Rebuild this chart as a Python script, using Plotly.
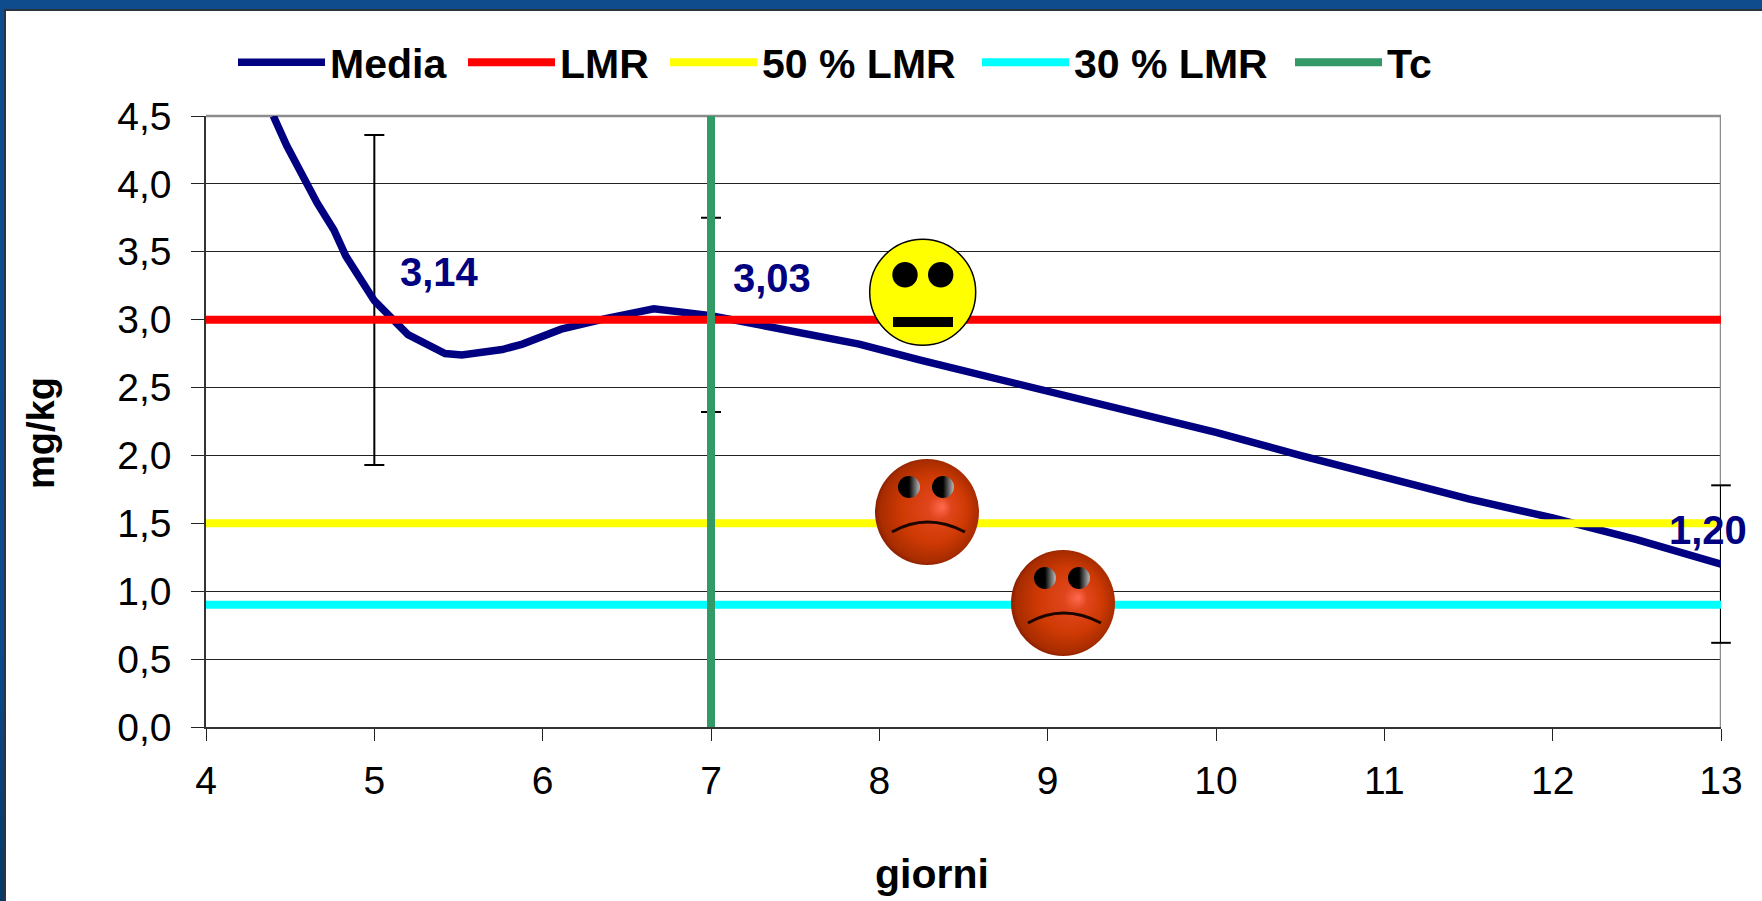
import base64
import plotly.graph_objects as go

days = [4.40, 4.48, 4.66, 4.76, 4.83, 5.0, 5.2, 5.31, 5.42, 5.52, 5.76, 5.88, 6.11, 6.38, 6.66, 7.0,
        7.55, 7.88, 8.25, 8.8, 9.0, 9.4, 9.75, 10.0, 10.5, 11.0, 11.5, 12.0, 12.5, 13.0]
media = [4.5, 4.28, 3.86, 3.66, 3.47, 3.14, 2.89, 2.82, 2.75, 2.74, 2.78, 2.82, 2.93, 3.01, 3.08, 3.03,
         2.90, 2.82, 2.70, 2.53, 2.47, 2.35, 2.25, 2.17, 2.00, 1.84, 1.68, 1.54, 1.38, 1.20]
err_x = [5, 7, 13]
err_mean = [3.14, 3.03, 1.20]
err_hi = [4.36, 3.75, 1.78]
err_lo = [1.93, 2.32, 0.62]
x_range = [4, 13]
y_range = [0, 4.5]
lmr = 3.0
lmr50 = 1.5
lmr30 = 0.9
x_ticks = [4, 5, 6, 7, 8, 9, 10, 11, 12, 13]
y_ticks = [0, 0.5, 1, 1.5, 2, 2.5, 3, 3.5, 4, 4.5]
y_labels = ["0,0", "0,5", "1,0", "1,5", "2,0", "2,5", "3,0", "3,5", "4,0", "4,5"]
label_text = ["3,14", "3,03", "1,20"]
label_x = [5.385, 7.36, 12.92]
label_y = [3.35, 3.31, 1.45]

W, H = 1762, 901
L, R, T, B = 206, 1721, 116, 727
NAVY = "#000080"
FONT = "Liberation Sans, Arial, sans-serif"


def px(v):
    return (v - L) / (R - L)


def py(v):
    return (B - v) / (B - T)


fig = go.Figure()
fig.add_trace(go.Scatter(x=[x_range[1], x_range[1]], y=y_range, mode="lines", showlegend=False, hoverinfo="skip",
                         cliponaxis=False, line=dict(color="#8c8c8c", width=2.5)))
fig.add_trace(go.Scatter(
    x=err_x[:2], y=err_mean[:2], mode="markers", marker=dict(size=1, opacity=0), showlegend=False,
    hoverinfo="skip", cliponaxis=False,
    error_y=dict(type="data", symmetric=False,
                 array=[h - m for h, m in zip(err_hi[:2], err_mean[:2])],
                 arrayminus=[m - l for m, l in zip(err_mean[:2], err_lo[:2])],
                 color="#000000", thickness=2, width=10)))
# The whisker on the right border would be clipped as an error bar, so it is drawn unclipped.
fig.add_trace(go.Scatter(x=[err_x[2], err_x[2]], y=[err_lo[2], err_hi[2]], mode="lines+markers", showlegend=False,
                         hoverinfo="skip", cliponaxis=False, line=dict(color="#000000", width=2),
                         marker=dict(symbol="line-ew", size=14, color="#000000", line=dict(color="#000000", width=2))))
fig.add_trace(go.Scatter(x=days, y=media, mode="lines", name="Media", cliponaxis=False, legend="legend",
                         line=dict(color=NAVY, width=7.5)))
fig.add_trace(go.Scatter(x=x_range, y=[lmr, lmr], mode="lines", name="LMR", cliponaxis=False, legend="legend2",
                         line=dict(color="#ff0000", width=8)))
fig.add_trace(go.Scatter(x=x_range, y=[lmr50, lmr50], mode="lines", name="50 % LMR", cliponaxis=False, legend="legend3",
                         line=dict(color="#ffff00", width=8)))
fig.add_trace(go.Scatter(x=x_range, y=[lmr30, lmr30], mode="lines", name="30 % LMR", cliponaxis=False, legend="legend4",
                         line=dict(color="#00ffff", width=8)))
fig.add_trace(go.Scatter(x=[7, 7], y=y_range, mode="lines", name="Tc", cliponaxis=False, legend="legend5",
                         line=dict(color="#339966", width=8)))

for t, x, y in zip(label_text, label_x, label_y):
    fig.add_annotation(x=x, y=y, text="<b>%s</b>" % t, showarrow=False,
                       font=dict(family=FONT, size=40, color=NAVY))

fig.add_annotation(xref="paper", yref="paper", x=px(932), y=py(874), text="<b>giorni</b>", showarrow=False,
                   xanchor="center", yanchor="middle", font=dict(family=FONT, size=41, color="black"))
fig.add_annotation(xref="paper", yref="paper", x=px(41), y=py(433), text="<b>mg/kg</b>", showarrow=False,
                   xanchor="center", yanchor="middle", textangle=-90, font=dict(family=FONT, size=38, color="black"))

bg_svg = f'''<svg xmlns="http://www.w3.org/2000/svg" width="{W}" height="{H}">
<defs><linearGradient id="b" x1="0" y1="0" x2="0" y2="1">
<stop offset="0" stop-color="#0f4c8e"/><stop offset="0.7" stop-color="#0c4a90"/><stop offset="1" stop-color="#063a66"/>
</linearGradient></defs><rect width="{W}" height="{H}" fill="url(#b)"/>
<rect x="5" y="10" width="{W}" height="{H}" fill="#ffffff" stroke="#2a3440" stroke-width="2"/></svg>'''


def face():
    return '''<svg xmlns="http://www.w3.org/2000/svg" width="104" height="106" viewBox="0 0 104 106">
<defs><radialGradient id="r" cx="0.5" cy="0.5" r="0.56" fx="0.65" fy="0.45">
<stop offset="0" stop-color="#ff6a50"/><stop offset="0.2" stop-color="#e0451c"/><stop offset="0.55" stop-color="#cf3a04"/>
<stop offset="0.85" stop-color="#a82c00"/><stop offset="1" stop-color="#661000"/></radialGradient>
<linearGradient id="e" x1="0" x2="1"><stop offset="0.5" stop-color="#000"/><stop offset="0.95" stop-color="#aaa"/></linearGradient></defs>
<ellipse cx="52" cy="53" rx="52" ry="53" fill="url(#r)"/>
<circle cx="34" cy="28" r="11" fill="url(#e)"/><circle cx="68" cy="28" r="11" fill="url(#e)"/>
<path d="M17 73 Q52 53 90 73" fill="none" stroke="#1a0500" stroke-width="3"/></svg>'''


def uri(svg):
    return "data:image/svg+xml;base64," + base64.b64encode(svg.encode()).decode()


images = [
    dict(source=uri(bg_svg), xref="paper", yref="paper", x=px(0), y=py(0), sizex=W / (R - L), sizey=H / (B - T),
         xanchor="left", yanchor="top", sizing="stretch", layer="below"),
    dict(source=uri(face()), xref="paper", yref="paper", x=px(875), y=py(459), sizex=104 / (R - L),
         sizey=106 / (B - T), xanchor="left", yanchor="top", sizing="stretch", layer="above"),
    dict(source=uri(face()), xref="paper", yref="paper", x=px(1011), y=py(550), sizex=104 / (R - L),
         sizey=106 / (B - T), xanchor="left", yanchor="top", sizing="stretch", layer="above"),
]


def circle(cx, cy, r, fill, line):
    return dict(type="circle", xref="paper", yref="paper", x0=px(cx - r), x1=px(cx + r), y0=py(cy + r), y1=py(cy - r),
                fillcolor=fill, line=dict(color="black", width=line), layer="above")


shapes = [
    dict(type="line", xref="paper", yref="paper", x0=0, x1=1, y0=1, y1=1, line=dict(color="#8c8c8c", width=2.5), layer="below"),
    circle(922.7, 292.3, 53, "#ffff00", 1.5),
    circle(905, 274.7, 12.7, "black", 0),
    circle(940.7, 274.7, 12.7, "black", 0),
    dict(type="rect", xref="paper", yref="paper", x0=px(893), x1=px(953), y0=py(327), y1=py(317),
         fillcolor="black", line=dict(width=0), layer="above"),
]


def legend_at(start):
    return dict(orientation="h", xref="paper", yref="paper", x=px(start - 6), y=py(29), xanchor="left", yanchor="top",
                itemwidth=87, bgcolor="rgba(0,0,0,0)",
                font=dict(family=FONT, size=41, weight="bold", color="black"))


fig.update_layout(
    width=W, height=H, autosize=False,
    margin=dict(l=L, r=W - R, t=T, b=H - B, pad=0),
    paper_bgcolor="white", plot_bgcolor="rgba(0,0,0,0)",
    font=dict(family=FONT, size=39, color="black"),
    images=images, shapes=shapes,
    hovermode=False,
    legend=legend_at(239), legend2=legend_at(469), legend3=legend_at(671), legend4=legend_at(983), legend5=legend_at(1296),
    xaxis=dict(range=x_range, tickvals=x_ticks, ticks="outside", ticklen=12, tickwidth=1, tickcolor="#222",
               showgrid=False, showline=True, linecolor="#333", linewidth=2, zeroline=False,
               ticklabelstandoff=6, tickfont=dict(size=39)),
    yaxis=dict(range=y_range, tickvals=y_ticks, ticktext=y_labels, ticks="outside", ticklen=13, tickwidth=1,
               tickcolor="#222", showgrid=True, gridcolor="#222", gridwidth=1, showline=True, linecolor="#333",
               linewidth=1.5, zeroline=False, ticklabelstandoff=12, tickfont=dict(size=39)),
    showlegend=True,
)
fig.write_html("out.html", config={"displayModeBar": False},
               post_script="document.body.style.margin='0';document.body.style.overflow='hidden';")
